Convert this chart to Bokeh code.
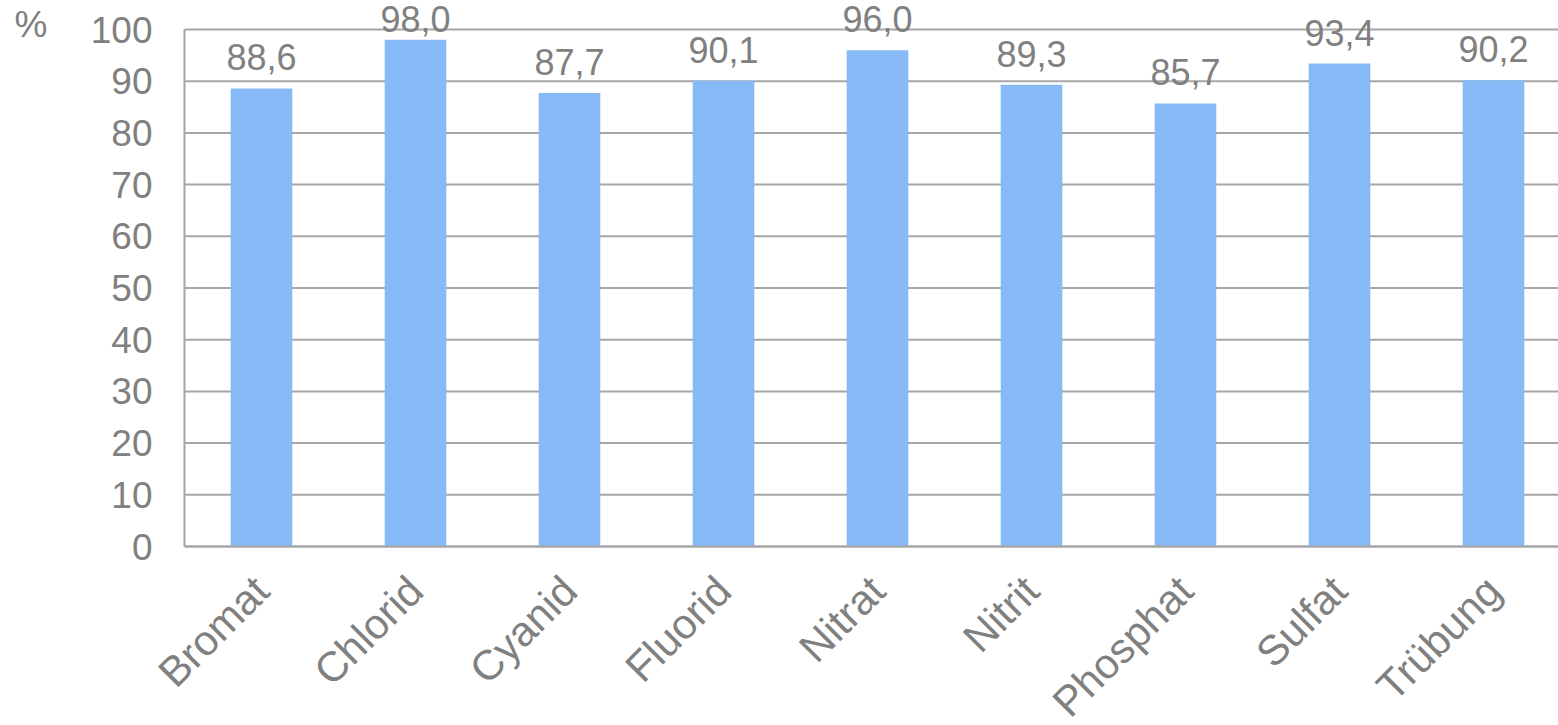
import math
from bokeh.plotting import figure
from bokeh.models import (ColumnDataSource, Range1d, FixedTicker, LabelSet, Label)
from bokeh.core.properties import value
from bokeh.embed import file_html
from bokeh.resources import INLINE

categories = ["Bromat", "Chlorid", "Cyanid", "Fluorid", "Nitrat", "Nitrit", "Phosphat", "Sulfat", "Trübung"]
values = [88.6, 98.0, 87.7, 90.1, 96.0, 89.3, 85.7, 93.4, 90.2]
y_ticks = [0, 10, 20, 30, 40, 50, 60, 70, 80, 90, 100]
unit_label = "%"

FONT = "Liberation Sans"
GRAY = "#808080"
LINE = "#A6A6A6"
BAR = "#86B9F5"

# layout (pixels)
W, H = 1558, 725
AX_LEFT, AX_TOP, AX_BOTTOM = 184, 29, 546
PX_X = 154.0                                   # pixels per category slot
PX_Y = (AX_BOTTOM - AX_TOP) / (y_ticks[-1] - y_ticks[0])

x_start = -0.5 - AX_LEFT / PX_X
x_end = x_start + W / PX_X
y_start = -(H - AX_BOTTOM) / PX_Y
y_end = y_ticks[-1] + AX_TOP / PX_Y
cat_end = x_end

xs = list(range(len(categories)))
labels = [f"{v:.1f}".replace(".", ",") for v in values]
label_y = [min(v, 96.0) for v in values]      # labels stay inside chart area
src = ColumnDataSource(dict(x=xs, top=values, label=labels, ly=label_y))

p = figure(width=W, height=H, output_backend="svg", toolbar_location=None,
           x_range=Range1d(x_start, x_end), y_range=Range1d(y_start, y_end),
           min_border_left=0, min_border_right=0, min_border_top=0, min_border_bottom=0)
p.outline_line_color = None
p.background_fill_color = "white"
p.border_fill_color = "white"
p.xgrid.visible = False
p.ygrid.visible = False

# horizontal gridlines across the category area only
grid_src = ColumnDataSource(dict(y=y_ticks, x0=[-0.5] * len(y_ticks), x1=[cat_end] * len(y_ticks)))
p.segment(x0="x0", x1="x1", y0="y", y1="y", source=grid_src, line_color=LINE, line_width=2)

p.vbar(x="x", top="top", bottom=0, width=0.40, source=src, fill_color=BAR, line_color=None)

ls = LabelSet(x="x", y="ly", text="label", source=src, y_offset=18,
              text_align="center", text_baseline="alphabetic",
              text_font=value(FONT), text_font_size="36px", text_color=GRAY)
p.add_layout(ls)

# y axis, fixed at the left edge of the category area
p.yaxis.fixed_location = -0.5
p.yaxis.bounds = (y_ticks[0], y_ticks[-1])
p.yaxis.ticker = FixedTicker(ticks=y_ticks)
p.yaxis.axis_line_color = LINE
p.yaxis.axis_line_width = 2
p.yaxis.major_tick_line_color = None
p.yaxis.minor_tick_line_color = None
p.yaxis.major_tick_out = 0
p.yaxis.major_label_standoff = 32
p.yaxis.major_label_text_font = FONT
p.yaxis.major_label_text_font_size = "37px"
p.yaxis.major_label_text_color = GRAY

# x axis, fixed at y = 0
p.xaxis.fixed_location = 0
p.xaxis.bounds = (-0.5, cat_end)
p.xaxis.ticker = FixedTicker(ticks=xs)
p.xaxis.major_label_overrides = {i: c for i, c in enumerate(categories)}
p.xaxis.axis_line_color = LINE
p.xaxis.axis_line_width = 2
p.xaxis.major_tick_line_color = None
p.xaxis.minor_tick_line_color = None
p.xaxis.major_tick_out = 0
p.xaxis.major_label_orientation = math.pi / 4
p.xaxis.major_label_standoff = 37
p.xaxis.major_label_text_font = FONT
p.xaxis.major_label_text_font_size = "42px"
p.xaxis.major_label_text_color = GRAY

# unit label at the top-left corner
pct = Label(x=x_start + 14 / PX_X, y=y_ticks[-1] - (24 - AX_TOP) / PX_Y,
            x_units="data", y_units="data", text=unit_label,
            text_font=FONT, text_font_size="37px", text_color=GRAY,
            text_baseline="alphabetic", text_align="left")
p.add_layout(pct)

open("out.html", "w").write(file_html(p, INLINE))
